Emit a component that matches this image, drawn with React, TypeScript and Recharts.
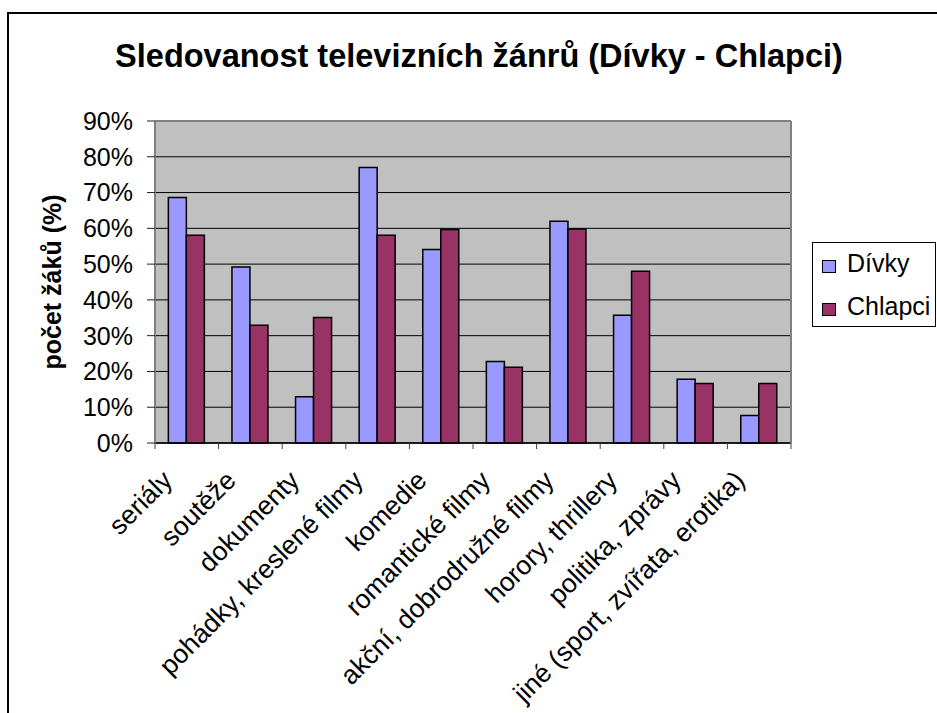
import {
  BarChart,
  Bar,
  XAxis,
  YAxis,
  CartesianGrid,
  Legend,
  ReferenceLine,
} from "recharts";

const categories = [
  "seriály",
  "soutěže",
  "dokumenty",
  "pohádky, kreslené filmy",
  "komedie",
  "romantické filmy",
  "akční, dobrodružné filmy",
  "horory, thrillery",
  "politika, zprávy",
  "jiné (sport, zvířata, erotika)",
];
const divky = [68.6, 49.2, 12.9, 77.0, 54.1, 22.8, 62.0, 35.7, 17.8, 7.7];
const chlapci = [58.1, 32.9, 35.1, 58.1, 59.7, 21.2, 59.8, 48.0, 16.6, 16.6];
const yTicks = [0, 10, 20, 30, 40, 50, 60, 70, 80, 90];

const FONT = "'Liberation Sans', Arial, sans-serif";
const DIVKY_COLOR = "#9999FF";
const CHLAPCI_COLOR = "#993366";

const data = categories.map((name, i) => ({
  name,
  Dívky: divky[i],
  Chlapci: chlapci[i],
}));

// rotated category labels + tick marks on the category boundaries
const CategoryTick = (props: any) => {
  const { x, y, payload, index, visibleTicksCount, width } = props;
  const half = payload?.offset || width / visibleTicksCount / 2;
  const ax = x - 13;
  const ay = y + 39;
  const last = index === visibleTicksCount - 1;
  return (
    <g>
      <line x1={x - half} x2={x - half} y1={y} y2={y + 6} stroke="#404040" />
      {last && <line x1={x + half} x2={x + half} y1={y} y2={y + 6} stroke="#404040" />}
      <text
        x={ax}
        y={ay}
        textAnchor="end"
        transform={`rotate(-45 ${ax} ${ay})`}
        fontSize={26.5}
        fontFamily={FONT}
        fill="#000"
      >
        {payload.value}
      </text>
    </g>
  );
};

const LegendBox = () => {
  const items = [
    { label: "Dívky", color: DIVKY_COLOR },
    { label: "Chlapci", color: CHLAPCI_COLOR },
  ];
  return (
    <div
      style={{
        position: "relative",
        width: 124,
        height: 85,
        border: "1px solid #000",
        boxSizing: "border-box",
        background: "#fff",
        fontFamily: FONT,
      }}
    >
      {items.map((it, i) => (
        <div key={it.label}>
          <span
            style={{
              position: "absolute",
              left: 9,
              top: 17 + i * 42.5,
              width: 14,
              height: 13,
              boxSizing: "border-box",
              border: "1.5px solid #000",
              background: it.color,
            }}
          />
          <span
            style={{
              position: "absolute",
              left: 34,
              top: 8 + i * 42.5,
              fontSize: 25,
              lineHeight: "25px",
              color: "#000",
              whiteSpace: "nowrap",
            }}
          >
            {it.label}
          </span>
        </div>
      ))}
    </div>
  );
};

export default function App() {
  return (
    <div
      style={{
        position: "absolute",
        left: 0,
        top: 0,
        width: 937,
        height: 713,
        overflow: "hidden",
        background: "#fff",
        fontFamily: FONT,
      }}
    >
      <BarChart
        width={937}
        height={713}
        data={data}
        margin={{ top: 121, right: 145, bottom: 269, left: 154 }}
        barCategoryGap="21%"
        barGap={0}
      >
        <CartesianGrid
          vertical={false}
          horizontal
          stroke="#000"
          strokeWidth={1}
          fill="#C0C0C0"
          fillOpacity={1}
        />
        <XAxis
          dataKey="name"
          height={1}
          interval={0}
          tickLine={false}
          axisLine={{ stroke: "#000", strokeWidth: 1.5 }}
          tickSize={0}
          tickMargin={0}
          tick={<CategoryTick />}
        />
        <YAxis
          width={1}
          domain={[0, 90]}
          ticks={yTicks}
          interval={0}
          tickSize={8}
          tickMargin={14}
          tickFormatter={(v: number) => `${v}%`}
          tick={{ fontSize: 25, fill: "#000", fontFamily: FONT }}
          tickLine={{ stroke: "#202020" }}
          axisLine={{ stroke: "#808080", strokeWidth: 2 }}
          label={{
            content: () => (
              <text
                x={61}
                y={282}
                transform="rotate(-90 61 282)"
                textAnchor="middle"
                fontSize={25}
                fontWeight="bold"
                fontFamily={FONT}
                fill="#000"
              >
                počet žáků (%)
              </text>
            ),
          }}
        />
        <YAxis
          yAxisId="right"
          orientation="right"
          width={1}
          domain={[0, 90]}
          tick={false}
          tickLine={false}
          axisLine={{ stroke: "#808080", strokeWidth: 2 }}
        />
        <ReferenceLine y={90} stroke="#808080" strokeWidth={2} />
        <Bar
          dataKey="Dívky"
          fill={DIVKY_COLOR}
          stroke="#000"
          strokeWidth={1.5}
          isAnimationActive={false}
        />
        <Bar
          dataKey="Chlapci"
          fill={CHLAPCI_COLOR}
          stroke="#000"
          strokeWidth={1.5}
          isAnimationActive={false}
        />
        <Legend
          layout="vertical"
          align="center"
          verticalAlign="middle"
          content={<LegendBox />}
          wrapperStyle={{ left: 812, top: 242, width: 124, height: 85 }}
        />
      </BarChart>
      <div
        style={{
          position: "absolute",
          left: 0,
          top: 39.5,
          width: 958,
          textAlign: "center",
          fontSize: 32.5,
          lineHeight: "32.5px",
          fontWeight: "bold",
          whiteSpace: "nowrap",
          color: "#000",
        }}
      >
        Sledovanost televizních žánrů (Dívky - Chlapci)
      </div>
      <div
        style={{
          position: "absolute",
          left: 7,
          top: 12,
          width: 1000,
          height: 1000,
          border: "2px solid #000",
          pointerEvents: "none",
        }}
      />
    </div>
  );
}
